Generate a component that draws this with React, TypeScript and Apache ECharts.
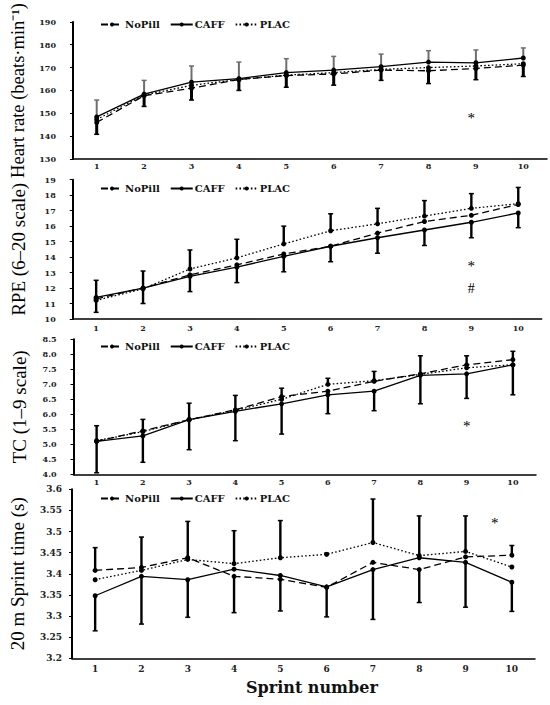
import React, { useEffect, useRef } from "react";
import * as echarts from "echarts";

const categories = ["1", "2", "3", "4", "5", "6", "7", "8", "9", "10"];
const seriesNames = ["NoPill", "CAFF", "PLAC"];

// Heart rate
const hrNoPill = [146, 157.7, 161, 164.8, 166.5, 167.2, 168.9, 168.6, 169.6, 171.1];
const hrCaff = [148.4, 158.4, 163.6, 165.2, 167.8, 168.9, 170.4, 172.4, 172.1, 174.2];
const hrPlac = [147.3, 158, 162.2, 164.8, 166.7, 167.8, 169.2, 170.0, 170.7, 171.7];
const hrErrTop = [155.8, 164.4, 170.7, 172.4, 173.9, 174.9, 175.9, 177.4, 177.7, 178.6];
const hrErrBottom = [140.8, 153, 155.8, 160, 161.4, 162.3, 164.4, 163, 164.7, 166.1];
const hrTicks = { min: 130, max: 190, interval: 10 };

// RPE
const rpeNoPill = [11.3, 12.0, 12.85, 13.5, 14.2, 14.7, 15.55, 16.3, 16.7, 17.4];
const rpeCaff = [11.4, 12.0, 12.75, 13.35, 14.05, 14.7, 15.25, 15.75, 16.25, 16.85];
const rpePlac = [11.2, 11.95, 13.23, 13.95, 14.85, 15.7, 16.15, 16.65, 17.15, 17.45];
const rpeErrTop = [12.5, 13.1, 14.46, 15.15, 16.0, 16.8, 17.15, 17.65, 18.1, 18.5];
const rpeErrBottom = [10.43, 11.0, 11.77, 12.35, 13.05, 13.7, 14.25, 14.75, 15.25, 15.9];
const rpeTicks = { min: 10, max: 19, interval: 1 };

// TC
const tcNoPill = [5.1, 5.45, 5.82, 6.15, 6.59, 6.77, 7.1, 7.35, 7.65, 7.82];
const tcCaff = [5.1, 5.28, 5.82, 6.1, 6.35, 6.65, 6.77, 7.3, 7.35, 7.65];
const tcPlac = [5.12, 5.42, 5.82, 6.13, 6.5, 7.0, 7.12, 7.33, 7.55, 7.65];
const tcErrTop = [5.62, 5.83, 6.37, 6.63, 6.87, 7.2, 7.43, 7.95, 7.95, 8.1];
const tcErrBottom = [4.05, 4.4, 4.82, 5.12, 5.34, 6.02, 6.12, 6.35, 6.53, 6.65];
const tcTicks = { min: 4, max: 8.5, interval: 0.5 };

// 20 m sprint time
const spNoPill = [3.408, 3.415, 3.438, 3.394, 3.387, 3.368, 3.427, 3.41, 3.44, 3.444];
const spCaff = [3.348, 3.394, 3.386, 3.411, 3.396, 3.369, 3.41, 3.438, 3.427, 3.38];
const spPlac = [3.386, 3.408, 3.434, 3.424, 3.438, 3.446, 3.474, 3.443, 3.453, 3.416];
const spErrTop = [3.462, 3.487, 3.524, 3.502, 3.526, 3.449, 3.577, 3.537, 3.537, 3.467];
const spErrBottom = [3.265, 3.281, 3.297, 3.308, 3.312, 3.298, 3.292, 3.332, 3.321, 3.311];
const spTicks = { min: 3.2, max: 3.6, interval: 0.05 };

// significance markers: category index, offset within band, value, symbol
const hrMarks = [{ x: 8, dx: -0.1, y: 149.2, text: "*" }];
const rpeMarks = [
  { x: 8, dx: 0, y: 13.65, text: "*" },
  { x: 8, dx: 0, y: 12.0, text: "#" },
];
const tcMarks = [{ x: 8, dx: 0, y: 5.71, text: "*" }];
const spMarks = [{ x: 8, dx: 0.63, y: 3.528, text: "*" }];

const yNames = ["Heart rate (beats\u00B7min\u207B\u00B9)", "RPE (6\u201320 scale)", "TC (1\u20139 scale)", "20 m Sprint time (s)"];

const panels = [
  { n: hrNoPill, c: hrCaff, p: hrPlac, top: hrErrTop, bot: hrErrBottom, ticks: hrTicks, marks: hrMarks, fmt: (v: number) => String(v) },
  { n: rpeNoPill, c: rpeCaff, p: rpePlac, top: rpeErrTop, bot: rpeErrBottom, ticks: rpeTicks, marks: rpeMarks, fmt: (v: number) => String(v) },
  { n: tcNoPill, c: tcCaff, p: tcPlac, top: tcErrTop, bot: tcErrBottom, ticks: tcTicks, marks: tcMarks, fmt: (v: number) => v.toFixed(1) },
  { n: spNoPill, c: spCaff, p: spPlac, top: spErrTop, bot: spErrBottom, ticks: spTicks, marks: spMarks, fmt: (v: number) => String(Number(v.toFixed(2))) },
];

const grids = [
  { left: 73, top: 15.5, width: 474, height: 143.5 },
  { left: 72.7, top: 179.7, width: 469, height: 139.3 },
  { left: 73.5, top: 339.3, width: 462.5, height: 135 },
  { left: 72, top: 489.3, width: 463, height: 169 },
];
const legendTops = [19.5, 183.5, 341.5, 493.5];
const yLabelMargin = [17, 17, 17, 10];
const yLabelSize = [8, 8, 8, 9];
const xLabelSize = [8, 8, 8, 9];
const xLabelMargin = [3, 5, 4, 6];
const yNameSize = [18.5, 19, 19, 19];
const yNameGap = [46, 45, 45, 45];

const SERIF = '"Liberation Serif", "Times New Roman", serif';
const WIDE = '"DejaVu Serif", serif';

function barRenderer(color: string, width: number) {
  return (params: any, api: any) => {
    const x = api.value(0);
    const a = api.coord([x, api.value(1)]);
    const b = api.coord([x, api.value(2)]);
    const half = 2.5;
    return {
      type: "group",
      children: [
        { type: "line", shape: { x1: a[0], y1: a[1], x2: b[0], y2: b[1] }, style: { stroke: color, lineWidth: width } },
        { type: "line", shape: { x1: b[0] - half, y1: b[1], x2: b[0] + half, y2: b[1] }, style: { stroke: color, lineWidth: 1.5 } },
      ],
    };
  };
}

export default function App() {
  const ref = useRef<HTMLDivElement>(null);
  useEffect(() => {
    if (!ref.current) return;
    const chart = echarts.init(ref.current, undefined, { renderer: "svg" });
    const series: any[] = [];
    panels.forEach((pn, k) => {
      const upper = categories.map((_, i) => [i, Math.max(pn.n[i], pn.c[i], pn.p[i]), pn.top[i]]);
      const lower = categories.map((_, i) => [i, Math.min(pn.n[i], pn.c[i], pn.p[i]), pn.bot[i]]);
      series.push({
        type: "custom",
        xAxisIndex: k,
        yAxisIndex: k,
        silent: true,
        z: 3,
        itemStyle: { color: "#000" },
        encode: { x: 0, y: [1, 2] },
        renderItem: barRenderer(k === 0 ? "#6e6e6e" : "#000", k === 0 ? 2 : 2.4),
        data: upper,
      });
      series.push({
        type: "custom",
        xAxisIndex: k,
        yAxisIndex: k,
        silent: true,
        z: 3,
        itemStyle: { color: "#000" },
        encode: { x: 0, y: [1, 2] },
        renderItem: barRenderer("#000", k === 0 ? 3 : 2.4),
        data: lower,
      });
      const styles: any[] = [[7, 4], "solid", [1.6, 2.2]];
      [pn.n, pn.c, pn.p].forEach((vals, j) => {
        series.push({
          type: "line",
          name: seriesNames[j],
          xAxisIndex: k,
          yAxisIndex: k,
          data: vals,
          symbol: "circle",
          symbolSize: 5,
          z: 4,
          itemStyle: { color: "#000" },
          lineStyle: { color: "#000", width: 1.3, type: styles[j] },
        });
      });
      const marks = pn.marks;
      series.push({
        type: "custom",
        xAxisIndex: k,
        yAxisIndex: k,
        silent: true,
        z: 5,
        itemStyle: { color: "#000" },
        data: marks.map((m) => [m.x, m.y]),
        renderItem: (params: any, api: any) => {
          const m = marks[params.dataIndex];
          const pt = api.coord([api.value(0), api.value(1)]);
          const band = api.size([1, 0])[0];
          const isStar = m.text === "*";
          return {
            type: "text",
            x: pt[0] + m.dx * band,
            y: pt[1] + (isStar ? 3 : 0),
            style: {
              text: m.text,
              fill: "#000",
              stroke: "none",
              font: `${isStar ? 15 : 14}px ${SERIF}`,
              align: "center",
              verticalAlign: "middle",
            },
          };
        },
      });
    });

    const option: any = {
      animation: false,
      backgroundColor: "#fff",
      grid: grids.map((g) => ({ ...g, containLabel: false })),
      legend: legendTops.map((t) => ({
        data: seriesNames,
        left: 100,
        top: t,
        padding: 0,
        itemWidth: 22,
        itemHeight: 5,
        itemGap: 10,
        selectedMode: false,
        textStyle: { fontFamily: WIDE, fontWeight: "bold", fontSize: 10, color: "#111", padding: [0, 0, 0, -3] },
      })),
      xAxis: grids.map((_, k) => ({
        type: "category",
        gridIndex: k,
        data: categories,
        boundaryGap: true,
        axisLine: { lineStyle: { color: "#000", width: 1.5 } },
        axisTick: { show: false },
        axisLabel: { fontFamily: WIDE, fontWeight: "bold", fontSize: xLabelSize[k], color: "#222", margin: xLabelMargin[k] },
        splitLine: { show: false },
      })),
      yAxis: panels.map((pn, k) => ({
        type: "value",
        gridIndex: k,
        min: pn.ticks.min,
        max: pn.ticks.max,
        interval: pn.ticks.interval,
        name: yNames[k],
        nameLocation: "middle",
        nameGap: yNameGap[k],
        nameTextStyle: { fontFamily: SERIF, fontSize: yNameSize[k], color: "#000" },
        axisLine: { show: true, lineStyle: { color: "#000", width: 2 } },
        axisTick: { show: true, length: 3, lineStyle: { color: "#000", width: 1 } },
        axisLabel: { fontFamily: WIDE, fontWeight: "bold", fontSize: yLabelSize[k], color: "#222", margin: yLabelMargin[k], formatter: pn.fmt },
        splitLine: { show: false },
      })),
      graphic: [
        {
          type: "text",
          left: 246,
          top: 679,
          style: { text: "Sprint number", font: `bold 16px ${WIDE}`, fill: "#111" },
        },
      ],
      series,
    };
    chart.setOption(option);
    return () => chart.dispose();
  }, []);
  return <div ref={ref} style={{ position: "absolute", left: 0, top: 0, width: 550, height: 705 }} />;
}
